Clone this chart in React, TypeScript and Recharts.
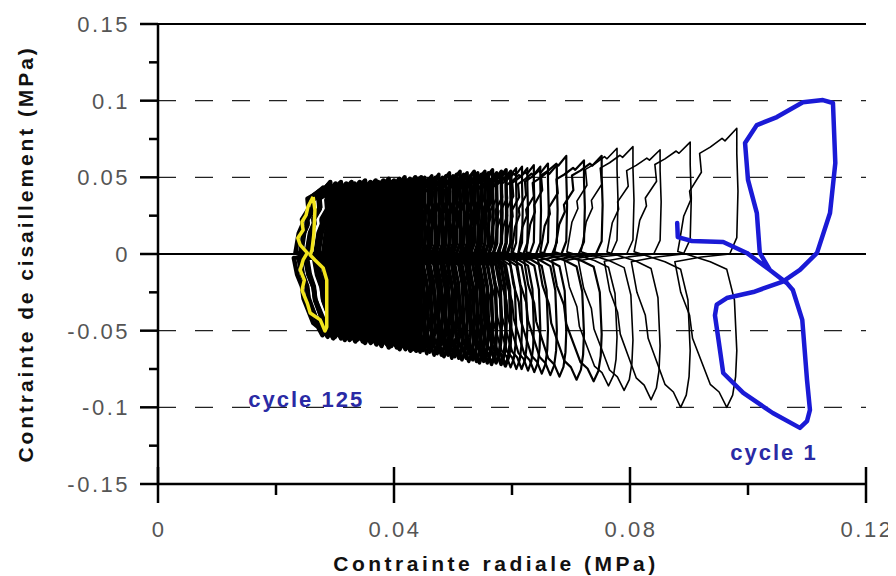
import React from 'react';
import { ComposedChart, Line, XAxis, YAxis, ReferenceLine, ReferenceDot } from 'recharts';

// ---------- axes ----------
const xTickValues = [0, 0.02, 0.04, 0.06, 0.08, 0.1, 0.12];
const xTickLabels = ['0', '', '0.04', '', '0.08', '', '0.12'];
const yTickValues = [-0.15, -0.125, -0.1, -0.075, -0.05, -0.025, 0, 0.025, 0.05, 0.075, 0.1, 0.125, 0.15];
const yTickLabels = ['-0.15', '', '-0.1', '', '-0.05', '', '0', '', '0.05', '', '0.1', '', '0.15'];
const dashedLevels = [0.1, 0.05, -0.05, -0.1];
const solidLevels = [0.15, 0];
const xAxisTitle = 'Contrainte radiale (MPa)';
const yAxisTitle = 'Contrainte de cisaillement (MPa)';

// ---------- cycle 1 (blue) ----------
const cycle1X = [0.0880, 0.0881, 0.0905, 0.0958, 0.0998, 0.1037, 0.1066, 0.1076, 0.1092, 0.1100, 0.1105, 0.1100, 0.1088, 0.1042, 0.0992, 0.0958, 0.0950, 0.0944, 0.0947, 0.0964, 0.1009, 0.1059, 0.1088, 0.1117, 0.1139, 0.1148, 0.1144, 0.1127, 0.1093, 0.1049, 0.1015, 0.0995, 0.1000, 0.1015, 0.1020, 0.1037, 0.1066];
const cycle1Y = [0.0202, 0.0110, 0.0085, 0.0078, 0.0007, -0.0104, -0.0190, -0.0235, -0.0430, -0.0820, -0.1017, -0.1090, -0.1134, -0.1037, -0.0906, -0.0776, -0.0560, -0.0400, -0.0330, -0.0287, -0.0248, -0.0180, -0.0104, 0.0007, 0.0267, 0.0593, 0.0985, 0.1004, 0.0990, 0.0893, 0.0841, 0.0724, 0.0483, 0.0267, 0.0007, -0.0104, -0.0190];

// ---------- cycle 125 (yellow) ----------
const cycle125X = [0.0263, 0.0266, 0.0264, 0.0261, 0.0258, 0.0266, 0.0280, 0.0286, 0.0286, 0.0283, 0.0275, 0.0258, 0.0253, 0.0244, 0.0248, 0.0241, 0.0246, 0.0253, 0.0241, 0.0237, 0.0246, 0.0244, 0.0251, 0.0254, 0.0261, 0.0263];
const cycle125Y = [0.0372, 0.0287, 0.0124, 0.0026, -0.0007, -0.0039, -0.0091, -0.0170, -0.0476, -0.0502, -0.0430, -0.0385, -0.0320, -0.0235, -0.0170, -0.0104, -0.0039, 0.0007, 0.0059, 0.0104, 0.0156, 0.0209, 0.0254, 0.0306, 0.0359, 0.0372];

// ---------- intermediate cycles (black), read per cycle ----------
const blackPeakX = [
  0.0288, 0.0292, 0.0297, 0.0301, 0.0306, 0.0310, 0.0315, 0.0319, 0.0324, 0.0328, 0.0333, 0.0337,
  0.0342, 0.0346, 0.0351, 0.0355, 0.0360, 0.0364, 0.0369, 0.0373, 0.0378, 0.0382, 0.0387, 0.0391,
  0.0396, 0.0400, 0.0405, 0.0409, 0.0414, 0.0418, 0.0423, 0.0427, 0.0432, 0.0436, 0.0441, 0.0446,
  0.0452, 0.0458, 0.0464, 0.0470, 0.0476, 0.0482, 0.0488, 0.0494, 0.0500, 0.0506, 0.0512, 0.0518,
  0.0524, 0.0530, 0.0536, 0.0542, 0.0548, 0.0554, 0.0560, 0.0567, 0.0574, 0.0582, 0.0590, 0.0598,
  0.0607, 0.0617, 0.0626, 0.0637, 0.0648, 0.0661, 0.0676, 0.0692, 0.0722, 0.0752,
  0.0778, 0.0805, 0.0851, 0.0902, 0.0981,
];
const blackTop = [
  0.045, 0.047, 0.044, 0.046, 0.045, 0.047, 0.044, 0.046, 0.045, 0.047, 0.046, 0.045,
  0.047, 0.046, 0.048, 0.045, 0.047, 0.046, 0.048, 0.047, 0.046, 0.048, 0.047, 0.049,
  0.047, 0.048, 0.046, 0.049, 0.048, 0.050, 0.048, 0.049, 0.047, 0.050, 0.049, 0.050,
  0.050, 0.049, 0.051, 0.050, 0.052, 0.050, 0.051, 0.053, 0.051, 0.052, 0.054, 0.052,
  0.053, 0.051, 0.054, 0.053, 0.052, 0.054, 0.053, 0.055, 0.053, 0.054, 0.055, 0.054,
  0.056, 0.057, 0.056, 0.058, 0.057, 0.059, 0.058, 0.064, 0.061, 0.064,
  0.069, 0.070, 0.068, 0.073, 0.082,
];
const blackBottom = [
  -0.053, -0.052, -0.054, -0.053, -0.055, -0.054, -0.053, -0.055, -0.056, -0.054, -0.056, -0.055,
  -0.057, -0.056, -0.055, -0.057, -0.058, -0.056, -0.058, -0.057, -0.059, -0.058, -0.060, -0.058,
  -0.059, -0.061, -0.060, -0.059, -0.061, -0.062, -0.060, -0.062, -0.061, -0.063, -0.062, -0.063,
  -0.064, -0.063, -0.065, -0.064, -0.066, -0.065, -0.066, -0.067, -0.066, -0.068, -0.067, -0.068,
  -0.069, -0.068, -0.070, -0.069, -0.070, -0.071, -0.070, -0.071, -0.072, -0.071, -0.072, -0.073,
  -0.074, -0.075, -0.075, -0.076, -0.077, -0.078, -0.079, -0.080, -0.082, -0.083,
  -0.086, -0.089, -0.095, -0.100, -0.100,
];
const blackWidth = [
  0.0055, 0.0049, 0.0056, 0.0046, 0.0053, 0.0058, 0.0047, 0.0052, 0.0044, 0.0056, 0.0049, 0.0054,
  0.0045, 0.0051, 0.0057, 0.0047, 0.0053, 0.0044, 0.0050, 0.0056, 0.0046, 0.0052, 0.0048, 0.0055,
  0.0045, 0.0051, 0.0057, 0.0047, 0.0053, 0.0049, 0.0055, 0.0045, 0.0052, 0.0048, 0.0056, 0.0050,
  0.0046, 0.0053, 0.0049, 0.0056, 0.0047, 0.0052, 0.0045, 0.0055, 0.0050, 0.0047, 0.0054, 0.0049,
  0.0052, 0.0046, 0.0055, 0.0050, 0.0048, 0.0054, 0.0047, 0.0052, 0.0051, 0.0053, 0.0050, 0.0054,
  0.0055, 0.0056, 0.0057, 0.0058, 0.0060, 0.0062, 0.0065, 0.0068, 0.0074, 0.0080,
  0.0085, 0.0088, 0.0090, 0.0095, 0.0100,
];
// outline of one black loop, read from the clearest (rightmost) black cycle,
// as fractions of its width (x) and of its top / bottom (y)
const loopShapeDx = [-0.12, 0, 0.02, 0, 0, -0.2, -0.25, -0.45, -0.63, -0.6, -0.8, -0.78, -0.9, -0.97, -1.0, -0.45, -0.17, -0.04, 0, -0.02, -0.07, -0.17, -0.3, -0.45, -0.6, -0.75, -0.8, -0.95, -1.05, -0.6, -0.12];
const loopShapeDy = [0, 0.13, 0.5, 0.8, 1.0, 0.9, 0.92, 0.85, 0.8, 0.65, 0.5, 0.43, 0.3, 0.1, 0.02, -0.05, -0.1, -0.3, -0.63, -0.8, -0.92, -1.0, -0.9, -0.85, -0.7, -0.55, -0.4, -0.25, -0.05, -0.02, 0];

// ---------- annotations ----------
const annotationLabels = ['cycle 125', 'cycle 1'];
const annotationX = [0.0153, 0.0970];
const annotationY = [-0.0995, -0.1343];

const cycle1Data = cycle1X.map((x, i) => ({ x, y: cycle1Y[i] }));
const cycle125Data = cycle125X.map((x, i) => ({ x, y: cycle125Y[i] }));
const blackLoops = blackPeakX.map((px, i) =>
  loopShapeDx.map((dx, j) => {
    const f = loopShapeDy[j];
    return { x: px + dx * blackWidth[i], y: f >= 0 ? f * blackTop[i] : f * -blackBottom[i] };
  })
);
// denser (later) cycles drawn with a heavier pen, as in the reference scan
const blackStroke = (px: number) => (px < 0.045 ? 4.5 : px < 0.06 ? 3.5 : px < 0.076 ? 2.2 : 1.6);

const FONT = '"Liberation Sans", Arial, Helvetica, sans-serif';

function XTick(props: any) {
  const { x, y, payload } = props;
  const idx = xTickValues.findIndex((v) => Math.abs(v - payload.value) < 1e-9);
  const label = idx >= 0 ? xTickLabels[idx] : '';
  const major = label !== '';
  return (
    <g>
      <line x1={x} x2={x} y1={major ? y - 17 : y} y2={major ? y + 19 : y + 11} stroke="#000" strokeWidth={2.5} />
      {major && (
        <text x={x + 1} y={y + 53} textAnchor="middle" fontFamily={FONT} fontSize={22} fill="#555" letterSpacing={2.5}>
          {label}
        </text>
      )}
    </g>
  );
}

function YTick(props: any) {
  const { x, y, payload } = props;
  const idx = yTickValues.findIndex((v) => Math.abs(v - payload.value) < 1e-9);
  const label = idx >= 0 ? yTickLabels[idx] : '';
  const major = label !== '';
  return (
    <g>
      <line x1={major ? x - 18 : x - 9} x2={x} y1={y} y2={y} stroke="#000" strokeWidth={2.5} />
      {major && (
        <text x={x - 28} y={y + 8} textAnchor="end" fontFamily={FONT} fontSize={22} fill="#555" letterSpacing={2.5}>
          {label}
        </text>
      )}
    </g>
  );
}

const renderXTitle = (props: any) => {
  const vb = props.viewBox;
  return (
    <text x={vb.x + vb.width / 2 - 16} y={vb.y + 87} textAnchor="middle" fontFamily={FONT} fontSize={21} fontWeight="bold" fill="#111" letterSpacing={3.5}>
      {xAxisTitle}
    </text>
  );
};

const renderYTitle = (props: any) => {
  const vb = props.viewBox;
  const cx = vb.x - 25;
  const cy = vb.y + vb.height / 2;
  return (
    <text x={cx} y={cy} transform={`rotate(-90, ${cx}, ${cy})`} textAnchor="middle" fontFamily={FONT} fontSize={21} fontWeight="bold" fill="#111" letterSpacing={2.9}>
      {yAxisTitle}
    </text>
  );
};

const makeAnnotation = (text: string) => (props: any) => {
  const vb = props.viewBox;
  return (
    <text x={vb.x} y={vb.y} fontFamily={FONT} fontSize={22} fontWeight="bold" fill="#2a2aa5" letterSpacing={2}>
      {text}
    </text>
  );
};

export default function App() {
  return (
    <ComposedChart width={888} height={568} margin={{ top: 16, right: 30, bottom: 32, left: 50 }}>
      <XAxis
        type="number"
        dataKey="x"
        domain={[0, 0.12]}
        ticks={xTickValues}
        interval={0}
        allowDataOverflow
        height={60}
        tickSize={0}
        tickMargin={0}
        tickLine={false}
        axisLine={{ stroke: '#000', strokeWidth: 2.5 }}
        tick={<XTick />}
        label={renderXTitle}
      />
      <YAxis
        type="number"
        domain={[-0.15, 0.15]}
        ticks={yTickValues}
        interval={0}
        allowDataOverflow
        width={100}
        tickSize={0}
        tickMargin={0}
        tickLine={false}
        axisLine={{ stroke: '#000', strokeWidth: 2.5 }}
        tick={<YTick />}
        label={renderYTitle}
      />
      {dashedLevels.map((v) => (
        <ReferenceLine key={'d' + v} y={v} stroke="#222" strokeWidth={1.4} strokeDasharray="18 19" />
      ))}
      {solidLevels.map((v) => (
        <ReferenceLine key={'s' + v} y={v} stroke="#000" strokeWidth={2.2} />
      ))}
      {blackLoops.map((pts, i) => {
        const sw = blackStroke(blackPeakX[i]);
        return (
          <Line
            key={'b' + i}
            name={'cycle-b' + i}
            data={pts}
            dataKey="y"
            type="linear"
            stroke="#000"
            strokeWidth={sw}
            style={{ strokeWidth: sw }}
            strokeLinejoin="round"
            dot={false}
            activeDot={false}
            isAnimationActive={false}
          />
        );
      })}
      <Line name="cycle 125" data={cycle125Data} dataKey="y" type="linear" stroke="#f2e41c" strokeWidth={3.5} strokeLinejoin="round" dot={false} activeDot={false} isAnimationActive={false} />
      <Line name="cycle 1" data={cycle1Data} dataKey="y" type="linear" stroke="#1a1ad6" strokeWidth={4.5} strokeLinejoin="round" strokeLinecap="round" dot={false} activeDot={false} isAnimationActive={false} />
      {annotationLabels.map((t, i) => (
        <ReferenceDot key={'a' + i} x={annotationX[i]} y={annotationY[i]} r={0} fill="none" stroke="none" label={makeAnnotation(t)} />
      ))}
    </ComposedChart>
  );
}
